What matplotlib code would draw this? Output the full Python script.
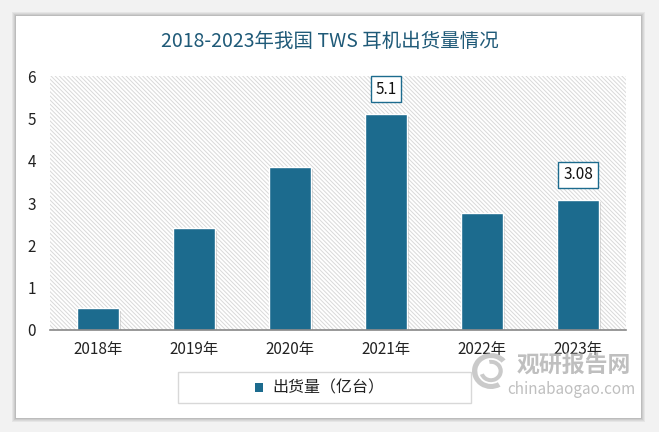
import matplotlib
matplotlib.use("Agg")
import matplotlib.pyplot as plt
from matplotlib.patches import Rectangle, Wedge
import matplotlib.patheffects as pe

plt.rcParams['font.family'] = ['Noto Sans CJK SC', 'DejaVu Sans']
plt.rcParams['hatch.color'] = '#d9d9d9'
plt.rcParams['hatch.linewidth'] = 0.7

categories = ['2018年', '2019年', '2020年', '2021年', '2022年', '2023年']
values = [0.52, 2.41, 3.86, 5.1, 2.76, 3.08]
labeled = {3: '5.1', 5: '3.08'}
yticks = [0, 1, 2, 3, 4, 5, 6]

W, H = 659, 432
fig = plt.figure(figsize=(W / 100, H / 100), dpi=100)
fig.patch.set_facecolor('#f2f2f2')

# card with shadow
for i, a in enumerate([0.05, 0.05, 0.06, 0.08]):
    d = 4 - i
    fig.patches.append(Rectangle(((16 - d) / W, (H - 418 - d) / H), (625 + 2 * d) / W, (402 + 2 * d) / H,
                                 transform=fig.transFigure, facecolor='#000000', alpha=a, edgecolor='none', zorder=0))
fig.patches.append(Rectangle((16 / W, (H - 418) / H), 625 / W, 402 / H, transform=fig.transFigure,
                             facecolor='white', edgecolor='none', zorder=1))

x0, x1, ytop, ybot = 50, 626, 76, 330
ax = fig.add_axes([x0 / W, (H - ybot) / H, (x1 - x0) / W, (ybot - ytop) / H])
ax.set_zorder(2)
ax.set_facecolor('white')
ax.add_patch(Rectangle((0, 0), 1, 1, transform=ax.transAxes, facecolor='white', hatch='\\' * 8,
                       edgecolor='#d9d9d9', linewidth=0, zorder=0))

xs = list(range(len(categories)))
ax.bar(xs, values, width=0.43, color='#1c6b8e', edgecolor='white', linewidth=1.0, zorder=3,
       path_effects=[pe.SimplePatchShadow(offset=(2, -2), shadow_rgbFace='#888888', alpha=0.35), pe.Normal()])

ax.set_xlim(-0.5, len(categories) - 0.5)
ax.set_ylim(0, 6)
ax.set_yticks(yticks)
ax.set_yticklabels([str(t) for t in yticks], fontsize=11, color='#222222')
ax.set_xticks(xs)
ax.set_xticklabels(categories, fontsize=11, color='#222222')
ax.tick_params(axis='both', length=0)
ax.tick_params(axis='y', pad=10)
ax.tick_params(axis='x', pad=8)
for s in ['top', 'right', 'left']:
    ax.spines[s].set_visible(False)
ax.spines['bottom'].set_color('#888888')
ax.spines['bottom'].set_linewidth(1.2)
ax.spines['bottom'].set_zorder(4)

for i, txt in labeled.items():
    ax.annotate(txt, (xs[i], values[i]), xytext=(0, 18), textcoords='offset points', ha='center', va='center',
                fontsize=11, color='#111111', zorder=5,
                bbox=dict(boxstyle='square,pad=0.3', facecolor='white', edgecolor='#1c6b8e', linewidth=1))

fig.text(0.5, (H - 41) / H, '2018-2023年我国 TWS 耳机出货量情况', ha='center', va='center', fontsize=14,
         color='#1f5a78', zorder=5)

# legend
fig.patches.append(Rectangle((178 / W, (H - 403) / H), 293 / W, 31 / H, transform=fig.transFigure,
                             facecolor='white', edgecolor='#d8d8d8', linewidth=1, zorder=3))
fig.patches.append(Rectangle((255 / W, (H - 392) / H), 8 / W, 9 / H, transform=fig.transFigure,
                             facecolor='#1c6b8e', edgecolor='none', zorder=4))
fig.text(272 / W, (H - 388) / H, '出货量（亿台）', ha='left', va='center', fontsize=11.5, color='#222222', zorder=5)

# watermark
wm = '#b4b4b4'
fig.text(574 / W, (H - 366) / H, '观研报告网', ha='center', va='center', fontsize=16.5, fontweight='bold',
         color=wm, alpha=0.85, zorder=6)
fig.text(571 / W, (H - 389) / H, 'chinabaogao.com', ha='center', va='center', fontsize=11,
         color=wm, alpha=0.85, zorder=6)
logo = fig.add_axes([472 / W, (H - 389) / H, 38 / W, 36 / H])
logo.set_zorder(6)
logo.set_xlim(-1, 1)
logo.set_ylim(-1, 1)
logo.axis('off')
logo.patch.set_alpha(0)
logo.add_patch(Wedge((0, 0), 1.0, 40, 300, width=0.28, facecolor=wm, alpha=0.7, edgecolor='none'))
logo.add_patch(Wedge((0, 0), 0.62, 200, 100, width=0.22, facecolor=wm, alpha=0.7, edgecolor='none'))

fig.savefig('out.png', dpi=100)
